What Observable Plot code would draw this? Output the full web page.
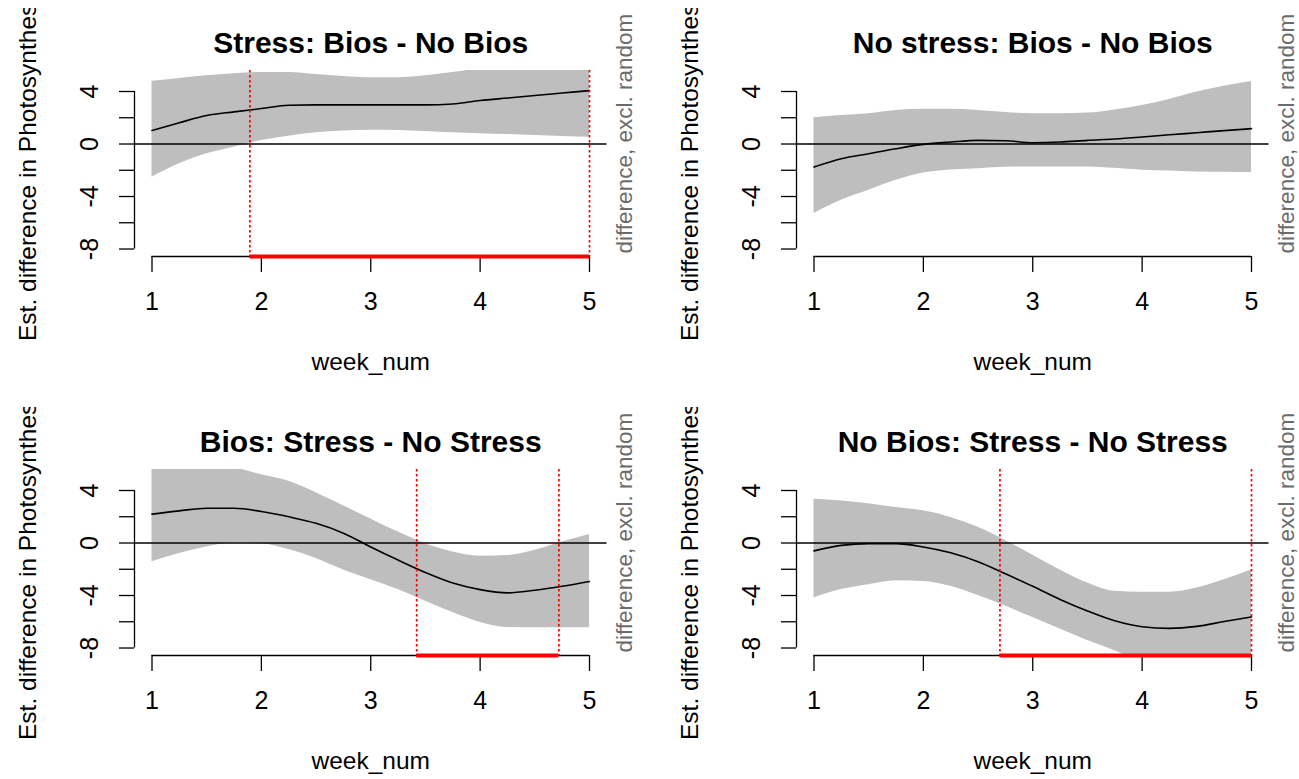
<!DOCTYPE html>
<html>
<head>
<meta charset="utf-8">
<script src="https://cdn.jsdelivr.net/npm/d3@7"></script>
<script src="https://cdn.jsdelivr.net/npm/@observablehq/plot@0.6"></script>
<style>
  html, body { margin: 0; padding: 0; background: #fff; }
  #wrap { position: relative; width: 1299px; height: 779px; overflow: hidden; background: #fff; }
  #wrap svg { position: absolute; overflow: hidden; }
</style>
</head>
<body>
<div id="wrap"></div>
<script>
// ---- data ----
const weeks = [1, 1.25, 1.5, 1.75, 2, 2.25, 2.5, 2.75, 3, 3.25, 3.5, 3.75, 4, 4.25, 4.5, 4.75, 5];
const xTicks = [1, 2, 3, 4, 5];
const yTicks = [-8, -6, -4, -2, 0, 2, 4];
const yLabelTicks = [-8, -4, 0, 4];
const titles = ["Stress: Bios - No Bios", "No stress: Bios - No Bios", "Bios: Stress - No Stress", "No Bios: Stress - No Stress"];
const xTitle = "week_num";
const yTitle = "Est. difference in Photosynthesis";
const sideNote = "difference, excl. random";

const fitTL   = [1.03, 1.62, 2.17, 2.45, 2.7, 2.95, 2.98, 2.98, 2.98, 2.98, 2.98, 3.05, 3.31, 3.5, 3.69, 3.88, 4.07];
const upperTL = [4.78, 5.0, 5.2, 5.35, 5.45, 5.45, 5.3, 5.15, 5.05, 5.05, 5.2, 5.45, 5.7, 5.8, 5.8, 5.8, 5.8];
const lowerTL = [-2.53, -1.51, -0.75, -0.24, 0.27, 0.6, 0.85, 1.0, 1.05, 1.03, 0.95, 0.85, 0.78, 0.72, 0.65, 0.58, 0.52];
const sigTL = [1.895, 5];

const fitTR   = [-1.75, -1.12, -0.74, -0.36, -0.03, 0.15, 0.28, 0.25, 0.1, 0.15, 0.28, 0.38, 0.53, 0.7, 0.86, 1.02, 1.17];
const upperTR = [2.0, 2.18, 2.31, 2.56, 2.64, 2.64, 2.56, 2.4, 2.31, 2.31, 2.36, 2.6, 2.94, 3.4, 3.96, 4.4, 4.77];
const lowerTR = [-5.3, -4.29, -3.53, -2.77, -2.21, -1.98, -1.88, -1.78, -1.75, -1.75, -1.75, -1.85, -2.0, -2.05, -2.13, -2.15, -2.18];
const sigTR = [];

const fitBL   = [2.2, 2.45, 2.65, 2.65, 2.4, 2.0, 1.5, 0.75, -0.3, -1.3, -2.25, -3.05, -3.55, -3.8, -3.6, -3.3, -2.93];
const upperBL = [5.8, 5.8, 5.8, 5.7, 5.2, 4.7, 3.83, 2.83, 1.83, 0.83, -0.05, -0.68, -1.0, -0.95, -0.55, 0.08, 0.65];
const lowerBL = [-1.43, -0.8, -0.3, 0.0, -0.05, -0.5, -1.18, -2.05, -2.8, -3.55, -4.43, -5.3, -6.05, -6.43, -6.45, -6.45, -6.45];
const sigBL = [3.42, 4.72];

const fitBR   = [-0.6, -0.18, -0.05, -0.05, -0.3, -0.75, -1.43, -2.35, -3.3, -4.3, -5.18, -5.93, -6.38, -6.5, -6.35, -5.98, -5.63];
const upperBR = [3.33, 3.2, 3.0, 2.7, 2.45, 1.95, 1.2, 0.2, -0.93, -2.05, -3.05, -3.68, -3.75, -3.75, -3.43, -2.8, -2.05];
const lowerBR = [-4.18, -3.55, -3.18, -2.88, -2.93, -3.3, -4.0, -4.8, -5.68, -6.55, -7.43, -8.2, -9.0, -9.2, -9.2, -9.2, -9.2];
const sigBR = [2.70, 5];

// ---- drawing ----
const FONT = "'Liberation Sans', Arial, sans-serif";
const xDom = [0.84, 5.16];
const yDom = [-8.57, 5.6];

function panel(title, fit, upper, lower, sig) {
  const rows = weeks.map((w, i) => ({w, fit: fit[i], lo: lower[i], hi: upper[i]}));
  const marks = [
    Plot.areaY(rows, {x: "w", y1: "lo", y2: "hi", fill: "#bebebe", curve: "monotone-x", clip: true}),
    Plot.ruleY([0], {stroke: "black", strokeWidth: 1.4}),
    Plot.line(rows, {x: "w", y: "fit", stroke: "black", strokeWidth: 1.6, curve: "monotone-x", clip: true}),
    // axes
    Plot.ruleY([yDom[0]], {x1: xTicks[0], x2: xTicks[xTicks.length - 1], stroke: "black", strokeWidth: 1.3}),
    Plot.axisX({ticks: xTicks, tickSize: 16, tickFormat: () => "", label: null, strokeWidth: 1.3, stroke: "black"}),
    Plot.text(xTicks, {x: d => d, text: d => String(d), frameAnchor: "bottom", lineAnchor: "middle", textAnchor: "middle", dy: 45, fontSize: 25, fill: "black"}),
    Plot.ruleX([xDom[0]], {y1: yTicks[0], y2: yTicks[yTicks.length - 1], stroke: "black", strokeWidth: 1.3}),
    Plot.axisY({ticks: yTicks, tickSize: 15, tickFormat: () => "", label: null, strokeWidth: 1.3, stroke: "black"}),
    Plot.text(yLabelTicks, {y: d => d, text: d => String(d), frameAnchor: "left", lineAnchor: "middle", textAnchor: "middle", dx: -45, rotate: -90, fontSize: 25, fill: "black"}),
    // titles
    Plot.text([title], {frameAnchor: "top", lineAnchor: "middle", textAnchor: "middle", dy: -27, fontSize: 30, fontWeight: "bold", fill: "black"}),
    Plot.text([xTitle], {frameAnchor: "bottom", lineAnchor: "middle", textAnchor: "middle", dy: 106, fontSize: 24.5, fill: "black"}),
    Plot.text([yTitle], {frameAnchor: "left", lineAnchor: "middle", textAnchor: "middle", dx: -106, rotate: -90, fontSize: 24.5, fill: "black"}),
    Plot.text([sideNote], {frameAnchor: "bottom-right", lineAnchor: "middle", textAnchor: "start", dx: 18, dy: -3, rotate: -90, fontSize: 22.5, fill: "#6b6b6b"})
  ];
  if (sig.length === 2) {
    marks.push(Plot.ruleX(sig, {x: d => d, stroke: "#ff0000", strokeWidth: 1.7, strokeDasharray: "2.5,2.5"}));
    marks.push(Plot.ruleY([yDom[0]], {x1: sig[0], x2: sig[1], stroke: "#ff0000", strokeWidth: 4}));
  }
  return Plot.plot({
    width: 661, height: 399,
    marginLeft: 145, marginRight: 43.5, marginTop: 62, marginBottom: 151,
    x: {domain: xDom},
    y: {domain: yDom},
    style: {fontFamily: FONT, background: "transparent", overflow: "hidden"},
    marks
  });
}

const wrap = document.getElementById("wrap");
const specs = [
  [titles[0], fitTL, upperTL, lowerTL, sigTL, -11, 8],
  [titles[1], fitTR, upperTR, lowerTR, sigTR, 651, 8],
  [titles[2], fitBL, upperBL, lowerBL, sigBL, -11, 407],
  [titles[3], fitBR, upperBR, lowerBR, sigBR, 651, 407]
];
for (const [t, f, u, l, s, left, top] of specs) {
  const svg = panel(t, f, u, l, s);
  svg.style.left = left + "px";
  svg.style.top = top + "px";
  svg.style.position = "absolute";
  svg.style.maxWidth = "none";
  wrap.appendChild(svg);
}
</script>
</body>
</html>
